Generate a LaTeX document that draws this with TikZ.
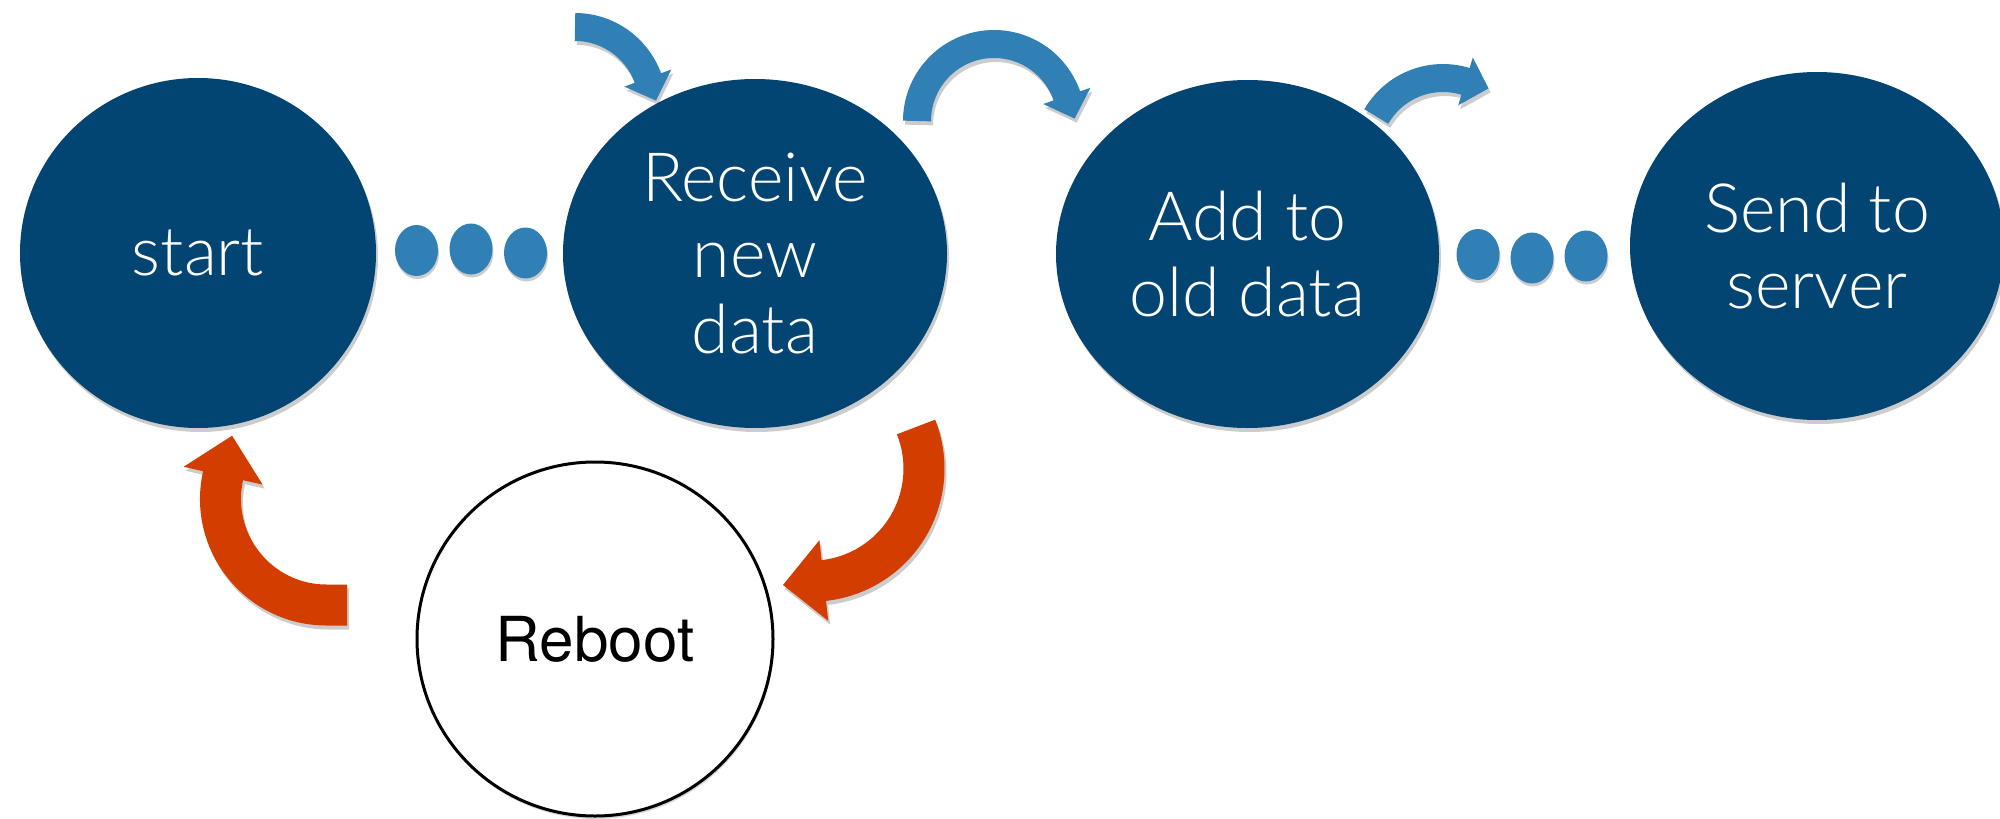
\documentclass[tikz,border=0pt]{standalone}
\usepackage{fontspec}
\newfontfamily\lightfont{Lato Light}
\newfontfamily\herosfont{TeX Gyre Heros}
\usetikzlibrary{shapes.geometric,shadows}
\definecolor{nodeblue}{HTML}{034572}
\definecolor{arrowblue}{HTML}{3180B5}
\definecolor{arrowred}{HTML}{D43D00}
% arrow bodies and heads (drawn twice: shadow and colour); #1 = colour
\newcommand\arrowOne[1]{%
  \draw[draw=#1,line width=28pt] (a1s) .. controls (607.6,27) and (636.7,47.4) .. (a1e) -- (a1b);
  \fill[fill=#1] (a1h1) -- (a1t) -- (a1h2) -- cycle;}
\newcommand\arrowTwo[1]{%
  \draw[draw=#1,line width=28pt] (a2s) .. controls (917,78.5) and (951.5,44) .. (a2m)
    .. controls (1026.9,44) and (1056.1,64.9) .. (a2e) -- (a2b);
  \fill[fill=#1] (a2h1) -- (a2t) -- (a2h2) -- cycle;}
\newcommand\arrowThree[1]{%
  \draw[draw=#1,line width=28pt] (a3s) .. controls (1394.2,85.5) and (1431.2,70.9) .. (a3e) -- (a3b);
  \fill[fill=#1] (a3h1) -- (a3t) -- (a3h2) -- cycle;}
\newcommand\arrowFour[1]{%
  \draw[draw=#1,line width=41pt] (r1s) .. controls (929,459.6) and (926,496.5) .. (r1m)
    .. controls (889.8,556.7) and (858.7,576.6) .. (r1e) -- (r1b);
  \fill[fill=#1] (r1h1) -- (r1t) -- (r1h2) -- cycle;}
\newcommand\arrowFive[1]{%
  \draw[draw=#1,line width=41pt] (r2s) -- (r2a) .. controls (258.6,605) and (208.2,542.0) .. (r2e) -- (r2b);
  \fill[fill=#1] (r2h1) -- (r2t) -- (r2h2) -- cycle;}
\begin{document}
\begin{tikzpicture}[x=1pt,y=-1pt,
  softshadow/.style={drop shadow={shadow xshift=2pt,shadow yshift=-4pt,opacity=0.2,fill=black}},
  stepnode/.style={ellipse,fill=nodeblue,inner sep=0pt,text=white,align=center,
    font=\lightfont\fontsize{68}{76}\selectfont,softshadow},
  dotnode/.style={ellipse,fill=arrowblue,minimum width=43pt,minimum height=51pt,inner sep=0pt,
    drop shadow={shadow xshift=1pt,shadow yshift=-3pt,opacity=0.2,fill=black}},
  rebootnode/.style={ellipse,draw=black,line width=3pt,fill=white,inner sep=0pt,
    font=\herosfont\fontsize{62}{70}\selectfont,
    drop shadow={shadow xshift=1pt,shadow yshift=-3pt,opacity=0.15,fill=black}}
]
\fill[white] (0,0) rectangle (2000,819);
\useasboundingbox (0,0) rectangle (2000,819);

% main nodes
\node[stepnode,minimum width=356pt,minimum height=350pt] (start) at (198,253) {start};
\node[stepnode,minimum width=384pt,minimum height=349pt] (recv) at (755,253.5) {Receive\\new\\data};
\node[stepnode,minimum width=383pt,minimum height=348pt] (add) at (1247.5,254) {Add to\\old data};
\node[stepnode,minimum width=374pt,minimum height=348pt] (send) at (1817,246) {Send to\\server};
\node[rebootnode,minimum width=356pt,minimum height=354pt] (reboot) at (595,639) {Reboot};

% dots
\node[dotnode] (d1) at (416.5,250.5) {};
\node[dotnode] (d2) at (471,249) {};
\node[dotnode] (d3) at (525.5,253) {};
\node[dotnode] (d4) at (1478,254.5) {};
\node[dotnode] (d5) at (1532,258) {};
\node[dotnode] (d6) at (1586,256) {};

% arrow into Receive
\coordinate (a1s) at (575,27);
\coordinate (a1e) at (647.8,78.0);
\coordinate (a1b) at (648.5,79.9);
\coordinate (a1h1) at (624.3,86.6);
\coordinate (a1h2) at (671.3,69.5);
\coordinate (a1t) at (656.0,100.6);
% arrow Receive -> Add
\coordinate (a2s) at (917,121);
\coordinate (a2m) at (994,44);
\coordinate (a2e) at (1066.8,95.9);
\coordinate (a2b) at (1067.5,97.8);
\coordinate (a2h1) at (1043.2,104.0);
\coordinate (a2h2) at (1090.4,87.8);
\coordinate (a2t) at (1074.6,118.6);
% arrow out of Add
\coordinate (a3s) at (1376.3,116.5);
\coordinate (a3e) at (1465.5,81.4);
\coordinate (a3b) at (1467.4,82.0);
\coordinate (a3h1) at (1458.2,105.3);
\coordinate (a3h2) at (1472.8,57.5);
\coordinate (a3t) at (1488.5,88.4);
% red arrow Receive -> Reboot
\coordinate (r1s) at (916,427);
\coordinate (r1m) at (907.9,526.6);
\coordinate (r1e) at (823.8,580.5);
\coordinate (r1b) at (821.8,580.7);
\coordinate (r1h1) at (819.4,540.2);
\coordinate (r1h2) at (828.2,620.8);
\coordinate (r1t) at (783,585);
% red arrow Reboot -> start
\coordinate (r2s) at (347,605);
\coordinate (r2a) at (326.5,605);
\coordinate (r2e) at (223.1,475.7);
\coordinate (r2b) at (223.5,473.7);
\coordinate (r2h1) at (262.6,484.6);
\coordinate (r2h2) at (183.6,466.8);
\coordinate (r2t) at (232.1,435.7);

% shadows of arrows
\begin{scope}[transparency group,opacity=0.2,transform canvas={shift={(2pt,-4pt)}}]
  \arrowOne{black}
  \arrowTwo{black}
  \arrowThree{black}
  \arrowFour{black}
  \arrowFive{black}
\end{scope}

% arrows
\arrowOne{arrowblue}
\arrowTwo{arrowblue}
\arrowThree{arrowblue}
\arrowFour{arrowred}
\arrowFive{arrowred}
\end{tikzpicture}
\end{document}
